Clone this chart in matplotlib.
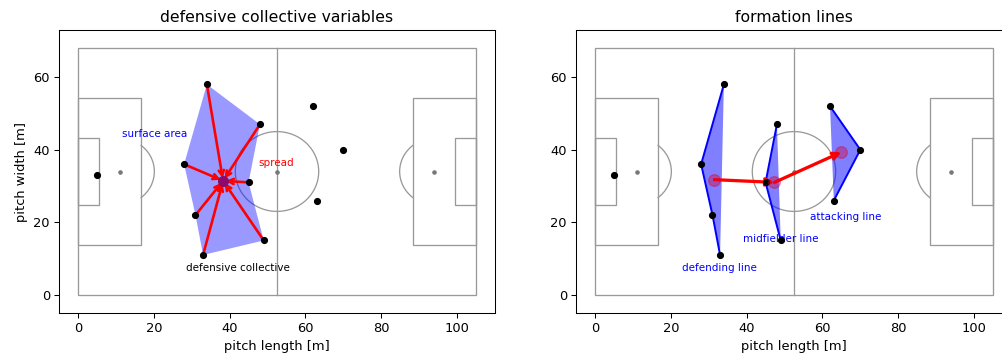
import numpy as np
import matplotlib
matplotlib.use("Agg")
import matplotlib.pyplot as plt
from matplotlib.patches import Circle, Arc, Rectangle, Polygon

# ---- data ----
gk_x = [5.0]
gk_y = [33.0]
defense_x = [34.0, 28.0, 31.0, 33.0, 49.0, 45.0, 48.0]
defense_y = [58.0, 36.0, 22.0, 11.0, 15.0, 31.0, 47.0]
attack_x = [62.0, 70.0, 63.0]
attack_y = [52.0, 40.0, 26.0]
defline_x = [34.0, 28.0, 31.0, 33.0]
defline_y = [58.0, 36.0, 22.0, 11.0]
midline_x = [48.0, 45.0, 49.0]
midline_y = [47.0, 31.0, 15.0]
attline_x = [62.0, 70.0, 63.0]
attline_y = [52.0, 40.0, 26.0]
x_ticks = [0, 20, 40, 60, 80, 100]
y_ticks = [0, 20, 40, 60]

PL, PW = 105.0, 68.0
LC = "#999999"

def draw_pitch(ax):
    kw = dict(fill=False, ec=LC, lw=1.0, zorder=1)
    ax.add_patch(Rectangle((0, 0), PL, PW, **kw))
    ax.plot([PL / 2, PL / 2], [0, PW], color=LC, lw=1.0, zorder=1)
    ax.add_patch(Rectangle((0, PW / 2 - 20.16), 16.5, 40.32, **kw))
    ax.add_patch(Rectangle((PL - 16.5, PW / 2 - 20.16), 16.5, 40.32, **kw))
    ax.add_patch(Rectangle((0, PW / 2 - 9.16), 5.5, 18.32, **kw))
    ax.add_patch(Rectangle((PL - 5.5, PW / 2 - 9.16), 5.5, 18.32, **kw))
    ax.add_patch(Circle((PL / 2, PW / 2), 11.0, **kw))
    ax.add_patch(Arc((11, PW / 2), 18.3, 18.3, theta1=-53, theta2=53, color=LC, lw=1.0, zorder=1))
    ax.add_patch(Arc((PL - 11, PW / 2), 18.3, 18.3, theta1=127, theta2=233, color=LC, lw=1.0, zorder=1))
    ax.plot([11, PL / 2, PL - 11], [PW / 2] * 3, 'o', color='#777777', ms=2.5, zorder=1)

DPI = 93.5
W, H = 1003.0, 354.0
fig = plt.figure(figsize=(W / DPI, H / DPI), dpi=DPI)
ax1 = fig.add_axes([59 / W, 41 / H, 436 / W, 283 / H])
ax2 = fig.add_axes([576 / W, 41 / H, 436 / W, 283 / H])

for ax in (ax1, ax2):
    draw_pitch(ax)
    ax.set_xlim(-5, 110)
    ax.set_ylim(-5, 73)
    ax.set_xticks(x_ticks)
    ax.set_yticks(y_ticks)
    ax.set_xlabel("pitch length [m]", fontsize=10)
    ax.tick_params(labelsize=10)

# ---- left panel ----
dx = np.array(defense_x); dy = np.array(defense_y)
cx, cy = dx.mean(), dy.mean()
ang = np.arctan2(dy - cy, dx - cx)
order = np.argsort(ang)
ax1.add_patch(Polygon(np.column_stack([dx[order], dy[order]]), closed=True,
                      fc=(0, 0, 1, 0.4), ec='none', zorder=2))
for x, y in zip(dx, dy):
    ax1.annotate("", xy=(cx, cy), xytext=(x, y),
                 arrowprops=dict(arrowstyle='->', color='red', lw=2,
                                 mutation_scale=10, shrinkA=0, shrinkB=2),
                 zorder=4)
ax1.plot(dx, dy, 'o', color='black', ms=4.5, zorder=5)
ax1.plot(attack_x, attack_y, 'o', color='black', ms=4.5, zorder=5)
ax1.plot(gk_x, gk_y, 'o', color='black', ms=4.5, zorder=5)
ax1.plot([cx], [cy], 'o', color='#8b0a6b', ms=7.5, zorder=6)
ax1.text(11.5, 44.3, "surface area", color='blue', fontsize=8, va='center', ha='left')
ax1.text(47.5, 36.3, "spread", color='red', fontsize=8, va='center', ha='left')
ax1.text(28.6, 7.4, "defensive collective", color='black', fontsize=8, va='center', ha='left')
ax1.set_ylabel("pitch width [m]", fontsize=10)
ax1.set_title("defensive collective variables", fontsize=12)

# ---- right panel ----
cents = []
for lx, ly in ((defline_x, defline_y), (midline_x, midline_y), (attline_x, attline_y)):
    lx = np.array(lx); ly = np.array(ly)
    ax2.add_patch(Polygon(np.column_stack([lx, ly]), closed=True,
                          fc=(0, 0, 1, 0.5), ec='none', zorder=2))
    ax2.plot(lx, ly, '-', color='blue', lw=1.5, zorder=3)
    ax2.plot(lx, ly, 'o', color='black', ms=4.5, zorder=5)
    cents.append((lx.mean(), ly.mean()))
ax2.plot(gk_x, gk_y, 'o', color='black', ms=4.5, zorder=5)
for (x0, y0), (x1, y1) in zip(cents[:-1], cents[1:]):
    ax2.annotate("", xy=(x1, y1), xytext=(x0, y0),
                 arrowprops=dict(arrowstyle='->', color='red', lw=2.5,
                                 mutation_scale=12, shrinkA=0, shrinkB=0),
                 zorder=4)
for (x, y) in cents:
    ax2.plot([x], [y], 'o', color=(0.85, 0, 0.2, 0.4), ms=9, zorder=6)
ax2.text(23.0, 7.4, "defending line", color='blue', fontsize=8, va='center', ha='left')
ax2.text(39.0, 15.4, "midfielder line", color='blue', fontsize=8, va='center', ha='left')
ax2.text(56.6, 21.4, "attacking line", color='blue', fontsize=8, va='center', ha='left')
ax2.set_title("formation lines", fontsize=12)

fig.savefig("out.png", dpi=DPI)
